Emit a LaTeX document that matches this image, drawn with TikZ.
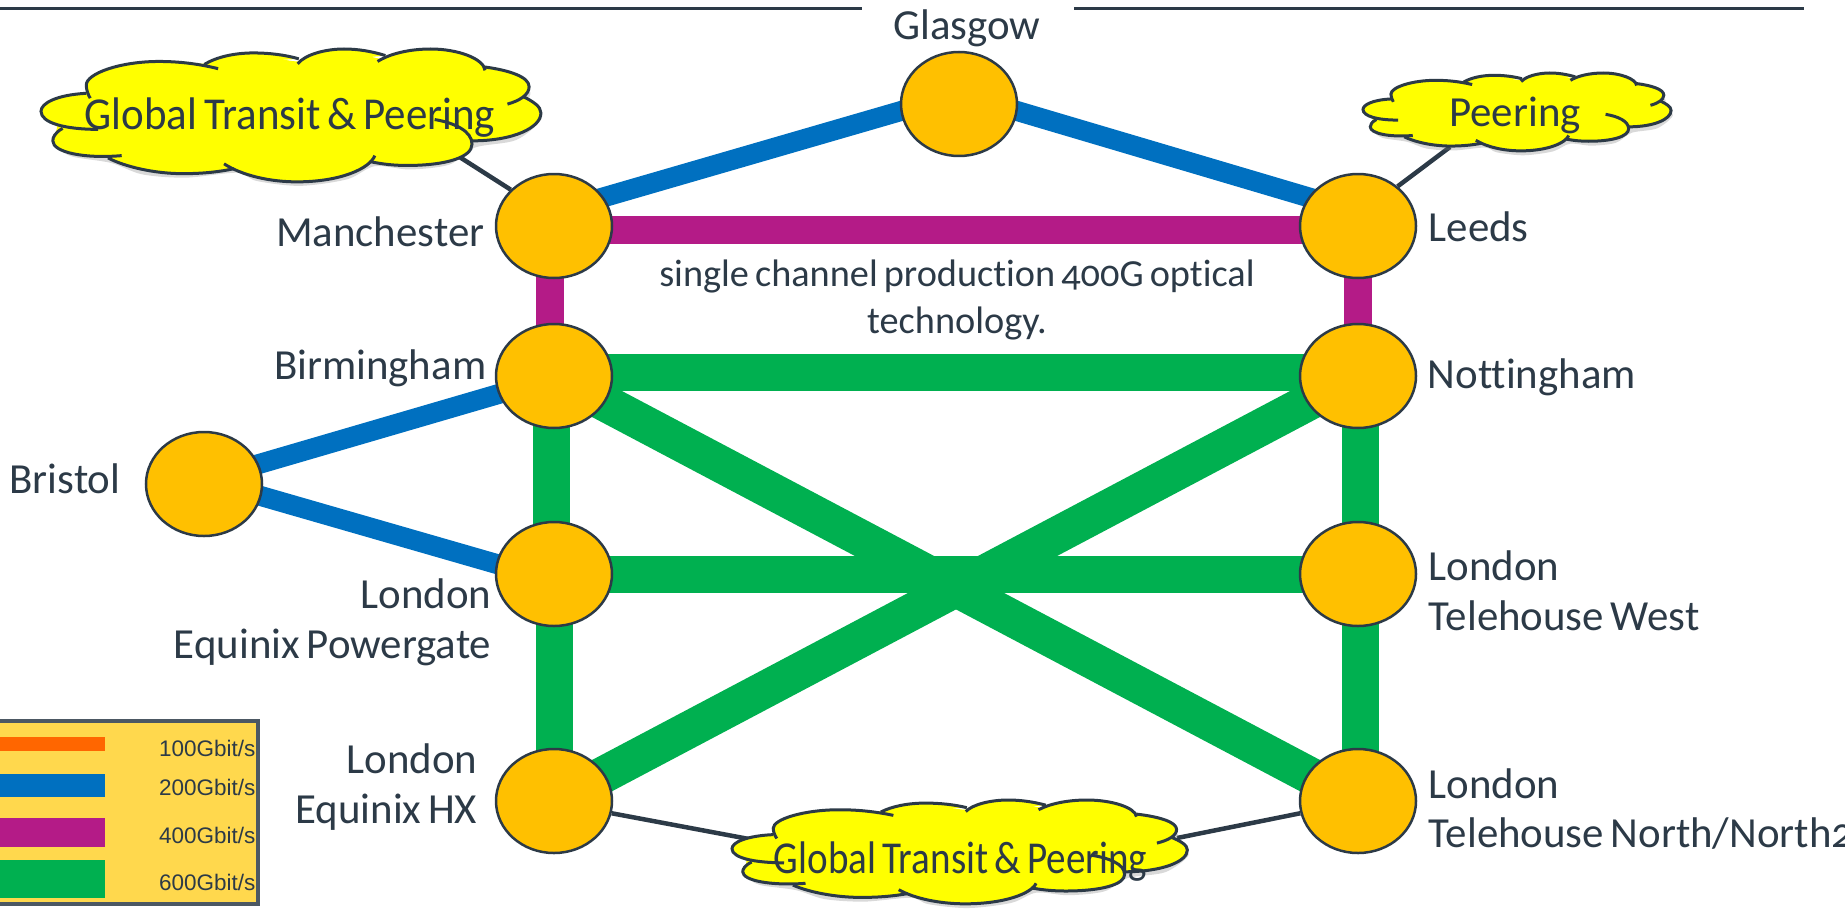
\documentclass[tikz,border=0pt]{standalone}
\usepackage{fontspec}
\setmainfont{Carlito}[Numbers=OldStyle, Ligatures=NoCommon, WordSpace=0.7]
\newfontfamily\legendfont{Liberation Sans}
\usetikzlibrary{positioning, calc, shapes.geometric, shadows, backgrounds}

\definecolor{inkslate}{HTML}{2C3A47}
\definecolor{siteamber}{HTML}{FFC000}
\definecolor{linkblue}{HTML}{0070C0}
\definecolor{linkpurple}{HTML}{B41B87}
\definecolor{linkgreen}{HTML}{00B050}
\definecolor{linkorange}{HTML}{FF6600}
\definecolor{legendfill}{HTML}{FFD84D}
\definecolor{cloudfill}{rgb}{1,1,0}

% the lobes of the cloud, one curve for each arc
\newcommand{\cloudlobes}[1]{
    #1 (115,135) .. controls (40,140) and (0,165) .. (0,190) .. controls (0,225) and (60,245) .. (145,245);
    #1 (55,242) .. controls (35,255) and (30,270) .. (30,280) .. controls (30,315) and (110,335) .. (205,325);
    #1 (170,332) .. controls (215,360) and (290,380) .. (360,380) .. controls (410,380) and (450,375) .. (490,365);
    #1 (465,350) .. controls (510,385) and (580,405) .. (650,405) .. controls (760,405) and (835,365) .. (848,325);
    #1 (835,343) .. controls (870,352) and (900,355) .. (930,355) .. controls (1030,355) and (1095,330) .. (1095,290) .. controls (1095,250) and (1050,225) .. (1000,215);
    #1 (1095,280) .. controls (1200,280) and (1270,240) .. (1270,195) .. controls (1270,175) and (1250,160) .. (1225,145);
    #1 (1128,55) .. controls (1190,65) and (1240,85) .. (1240,115) .. controls (1240,140) and (1215,158) .. (1185,168);
    #1 (1128,65) .. controls (1125,30) and (1060,0) .. (990,0) .. controls (935,0) and (885,15) .. (855,38);
    #1 (875,20) .. controls (840,7) and (805,0) .. (770,0) .. controls (720,0) and (670,18) .. (652,45);
    #1 (655,30) .. controls (620,18) and (580,12) .. (540,12) .. controls (490,12) and (445,25) .. (415,47);
    #1 (450,60) .. controls (400,45) and (350,38) .. (300,38) .. controls (200,38) and (115,75) .. (115,110) .. controls (115,125) and (120,140) .. (125,150);
}

% corner, then the size of one unit across and down
\newcommand{\puffcloud}[3]{
    \begin{scope}[shift={#1}, x=#2, y=#3]
        \fill[cloudfill, drop shadow={opacity=0.3, shadow xshift=0.3mm, shadow yshift=-0.5mm}]
            plot[smooth cycle] coordinates {(5,190)(40,230)(35,280)(70,312)(170,332)(250,367)(360,377)(490,362)(540,387)(650,402)(770,382)(840,342)(930,352)(1030,337)(1095,285)(1200,262)(1265,195)(1232,145)(1235,115)(1200,78)(1128,60)(1112,38)(1060,14)(990,4)(910,14)(865,30)(770,4)(690,18)(650,38)(540,16)(470,25)(420,44)(300,42)(190,58)(118,110)(115,138)(50,153)};
        \cloudlobes{\fill[cloudfill]}
        \cloudlobes{\draw[draw=inkslate, line width=0.3mm]}
    \end{scope}
}

\tikzset{
    site/.style={ellipse, draw=inkslate, line width=0.25mm, fill=siteamber,
        minimum width=1.16cm, minimum height=1.04cm, inner sep=0pt},
    placetext/.style={text=inkslate, inner sep=0pt, font=\fontsize{12.2}{14.2}\selectfont},
    notetext/.style={text=inkslate, inner sep=0pt, font=\fontsize{10.9}{13.4}\selectfont},
    cloudtext/.style={text=inkslate, inner sep=0pt, font=\fontsize{13}{15}\selectfont},
    legendtext/.style={text=inkslate, inner sep=0pt, anchor=east, font=\legendfont\fontsize{6.4}{8}\selectfont},
    bluelink/.style={draw=linkblue, line width=2.0mm, shorten <=-1mm, shorten >=-1mm},
    purplelink/.style={draw=linkpurple, line width=2.8mm},
    greenlink/.style={draw=linkgreen, line width=3.7mm},
    peerlink/.style={draw=inkslate, line width=0.45mm},
}

\begin{document}
\begin{tikzpicture}
    \useasboundingbox (0,0) rectangle (18.45,9.2);

    % the sites
    \node[site] (glasgow)    at (9.59,8.16)  {};
    \node[site] (manchester) at (5.54,6.94)  {};
    \node[site] (leeds)      at (13.58,6.94) {};
    \node[site] (birmingham) at (5.54,5.44)  {};
    \node[site] (nottingham) at (13.58,5.44) {};
    \node[site] (powergate)  at (5.54,3.46)  {};
    \node[site] (telewest)   at (13.58,3.46) {};
    \node[site] (equinixhx)  at (5.54,1.19)  {};
    \node[site] (telenorth)  at (13.58,1.19) {};
    \node[site] (bristol)    at (2.04,4.36)  {};

    % free ends of the peering links, under the clouds
    \coordinate (globalfoot) at (4.47,7.71);
    \coordinate (peerfoot)   at (14.50,7.73);
    \coordinate (bottomleft)  at (7.65,0.78);
    \coordinate (bottomright) at (11.77,0.82);

    \begin{pgfonlayer}{background}
        % 200G
        \draw[bluelink] (manchester.30) -- (glasgow.187);
        \draw[bluelink] (glasgow.353) -- (leeds.150);
        \draw[bluelink] (bristol.20) -- (birmingham.198);
        \draw[bluelink] (bristol.348) -- (powergate.170);

        % 400G
        \draw[purplelink] ([yshift=-0.04cm]manchester.center) -- ([yshift=-0.04cm]leeds.center);
        \draw[purplelink] ([xshift=-0.04cm]manchester.center) -- ([xshift=-0.04cm]birmingham.center);
        \draw[purplelink] (leeds.center) -- (nottingham.center);

        % 600G
        \draw[greenlink] ([yshift=0.04cm]birmingham.center) -- ([yshift=0.04cm]nottingham.center);
        \draw[greenlink] (powergate.center) -- (telewest.center);
        \draw[greenlink] ([xshift=-0.03cm]birmingham.center) -- ([xshift=-0.03cm]powergate.center);
        \draw[greenlink] (powergate.center) -- (equinixhx.center);
        \draw[greenlink] ([xshift=0.02cm]nottingham.center) -- ([xshift=0.02cm]telewest.center);
        \draw[greenlink] ([xshift=0.02cm]telewest.center) -- ([xshift=0.02cm]telenorth.center);
        \draw[greenlink] (birmingham.center) -- (telenorth.center);
        \draw[greenlink] (equinixhx.center) -- (nottingham.center);

        % peering
        \draw[peerlink] (manchester.140) -- (globalfoot);
        \draw[peerlink] (leeds.45) -- (peerfoot);
        \draw[peerlink] (equinixhx.348) -- (bottomleft);
        \draw[peerlink] (telenorth.192) -- (bottomright);
    \end{pgfonlayer}

    % the rules at the top
    \draw[draw=inkslate, line width=0.3mm] (0,9.11) -- (8.62,9.11);
    \draw[draw=inkslate, line width=0.3mm] (10.74,9.11) -- (18.04,9.11);

    % the clouds
    \puffcloud{(0.41,8.71)}{0.003937cm}{-0.003284cm}
    \puffcloud{(7.32,1.20)}{0.00359cm}{-0.002568cm}
    \puffcloud{(13.63,8.47)}{0.002425cm}{-0.001926cm}
    \node[cloudtext, xscale=0.94] (globalcloud) at (2.90,8.02) {Global Transit \& Peering};
    \node[cloudtext, xscale=0.855] (bottomcloud) at (9.605,0.58) {Global Transit \& Peering};
    \node[placetext] (peercloud) at (15.15,8.05) {Peering};

    % the names of the sites
    \node[placetext] (glasgowname) at (9.67,8.92) {Glasgow};
    \node[placetext, anchor=east] (manchestername) at (4.85,6.88) {Manchester};
    \node[placetext, anchor=west] (leedsname) at (14.28,6.93) {Leeds};
    \node[placetext, anchor=east] (birminghamname) at (4.87,5.52) {Birmingham};
    \node[placetext, anchor=west] (nottinghamname) at (14.27,5.43) {Nottingham};
    \node[placetext] (bristolname) at (0.65,4.41) {Bristol};
    \node[placetext, anchor=east, align=right] (powergatename) at (4.92,2.98) {London\\Equinix Powergate};
    \node[placetext, anchor=west, align=left] (telewestname) at (14.28,3.29) {London\\Telehouse West};
    \node[placetext, anchor=east, align=right] (equinixhxname) at (4.78,1.33) {London\\Equinix HX};
    \node[placetext, anchor=west, align=left] (telenorthname) at (14.28,1.11) {London\\Telehouse North/North2};
    \node[notetext, align=center] (channelnote) at (9.57,6.20) {single channel production 400G optical\\technology.};

    % the legend
    \draw[draw=inkslate!85, line width=0.4mm, fill=legendfill] (-0.1,1.99) rectangle (2.58,0.16);
    \fill[linkorange] (-0.1,1.69) rectangle (1.05,1.83);
    \fill[linkblue]   (-0.1,1.235) rectangle (1.05,1.465);
    \fill[linkpurple] (-0.1,0.735) rectangle (1.05,1.025);
    \fill[linkgreen]  (-0.1,0.22) rectangle (1.05,0.60);
    \node[legendtext] (legendA) at (2.56,1.72) {100Gbit/s};
    \node[legendtext] (legendB) at (2.56,1.33) {200Gbit/s};
    \node[legendtext] (legendC) at (2.56,0.85) {400Gbit/s};
    \node[legendtext] (legendD) at (2.56,0.38) {600Gbit/s};
\end{tikzpicture}
\end{document}
